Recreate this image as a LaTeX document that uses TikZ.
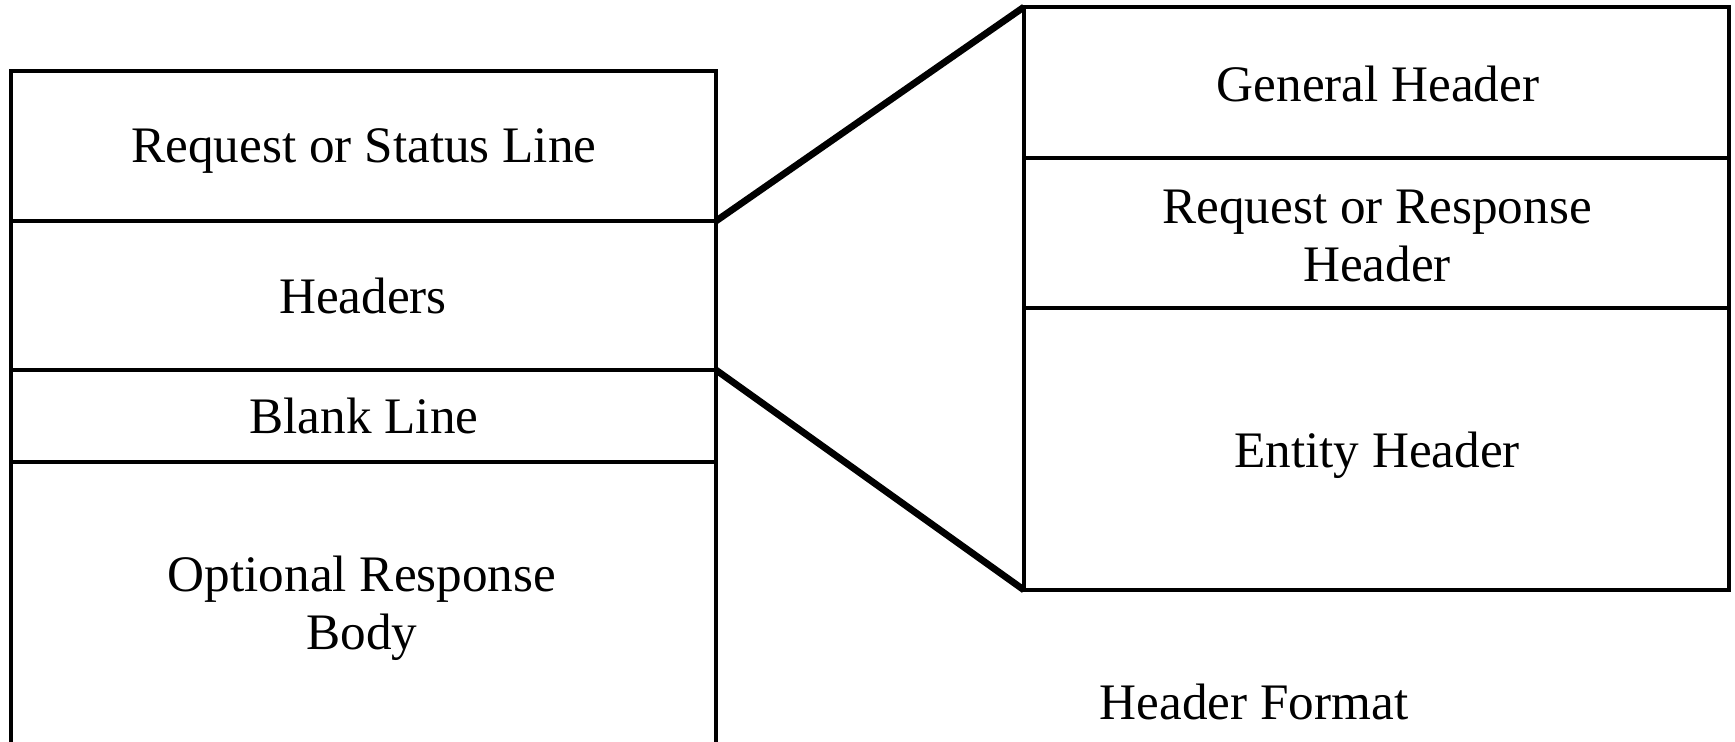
\documentclass[tikz,border=0pt]{standalone}
\usepackage{fontspec}
\setmainfont{Liberation Serif}
\begin{document}
\begin{tikzpicture}[x=0.5pt,y=-0.5pt,
  seg/.style={draw=black,line width=1.6pt,inner sep=0pt,outer sep=0pt,
    minimum width=352.5pt,anchor=north west,fill=none},
  lbl/.style={inner sep=0pt,align=center,font=\fontsize{25.6}{28.75}\selectfont},
  zoomline/.style={line width=3.4pt}]
\useasboundingbox (0,0) rectangle (1735,741);
% left stack
\node[seg,minimum height=75pt]   (status)  at (11,71)  {};
\node[seg,minimum height=74.5pt] (headers) at (11,221) {};
\node[seg,minimum height=46pt]   (blank)   at (11,370) {};
\node[seg,minimum height=150pt]  (body)    at (11,462) {};
% right stack
\node[seg,minimum height=75.5pt] (general) at (1024,7)   {};
\node[seg,minimum height=75pt]   (reqresp) at (1024,158) {};
\node[seg,minimum height=141pt]  (entity)  at (1024,308) {};
% zoom lines
\draw[zoomline] (status.south east) -- (general.north west);
\draw[zoomline] (headers.south east) -- (entity.south west);
% labels
\node[lbl] (tstatus)  at (364,151) {Request or Status Line};
\node[lbl] (theaders) at (363,295.5) {Headers};
\node[lbl] (tblank)   at (364,416) {Blank Line};
\node[lbl] (tbody)    at (362,608) {Optional Response\\Body};
\node[lbl] (tgeneral) at (1378,84) {General Header};
\node[lbl] (treq)     at (1377,236) {Request or Response\\Header};
\node[lbl] (tentity)  at (1377,455) {Entity Header};
\node[lbl] (tformat)  at (1254,701.5) {Header Format};
\end{tikzpicture}
\end{document}
